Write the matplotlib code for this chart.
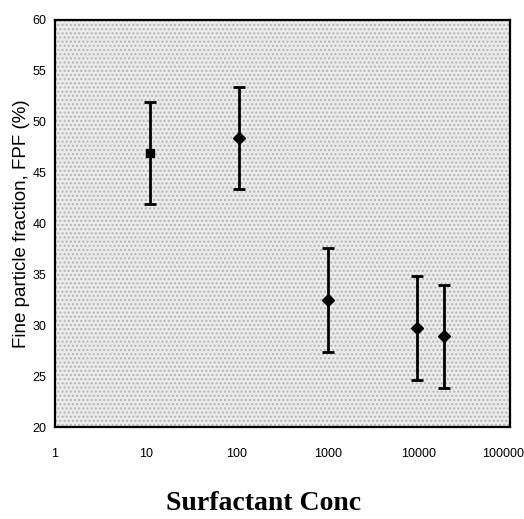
import matplotlib
matplotlib.use("Agg")
import matplotlib.pyplot as plt
from matplotlib.transforms import ScaledTranslation

# data
conc = [11, 105, 1000, 9500, 19000]
fpf = [46.9, 48.4, 32.5, 29.7, 28.9]
fpf_err = [5.0, 5.0, 5.1, 5.1, 5.1]
markers = ['s', 'D', 'D', 'D', 'D']

y_ticks = [20, 25, 30, 35, 40, 45, 50, 55, 60]
x_ticks = [1, 10, 100, 1000, 10000, 100000]
x_labels = ['1', '10', '100', '1000', '10000', '100000']

fig = plt.figure(figsize=(5.24, 5.19), dpi=100)
ax = fig.add_axes([0.105, 0.177, 0.868, 0.785])
ax.set_facecolor('#ebebeb')
ax.patch.set_hatch('....')
ax.patch.set_edgecolor('#b5b5b5')

for x, y, e, m in zip(conc, fpf, fpf_err, markers):
    ax.errorbar(x, y, yerr=e, fmt=m, color='black', markersize=6,
                elinewidth=2, capsize=4, capthick=2)

ax.set_xscale('log')
ax.set_xlim(1, 100000)
ax.set_ylim(20, 60)
ax.set_xticks(x_ticks)
ax.set_xticklabels(x_labels)
ax.minorticks_off()
ax.set_yticks(y_ticks)
ax.tick_params(axis='both', length=0, labelsize=9)
ax.tick_params(axis='x', pad=15)
ax.tick_params(axis='y', pad=6)
for lbl in ax.get_xticklabels() + ax.get_yticklabels():
    lbl.set_family('Liberation Sans')
# keep the last label inside the canvas
last = ax.get_xticklabels()[-1]
last.set_transform(last.get_transform() + ScaledTranslation(-7 / 100, 0, fig.dpi_scale_trans))
for s in ax.spines.values():
    s.set_linewidth(1.6)

ax.set_ylabel('Fine particle fraction, FPF (%)', fontsize=13.5,
              family='Liberation Sans', labelpad=2)
fig.text(0.503, 0.03, 'Surfactant Conc', ha='center', va='center', fontsize=20,
         fontweight='bold', family='Liberation Serif')

plt.savefig('out.png', dpi=100)
